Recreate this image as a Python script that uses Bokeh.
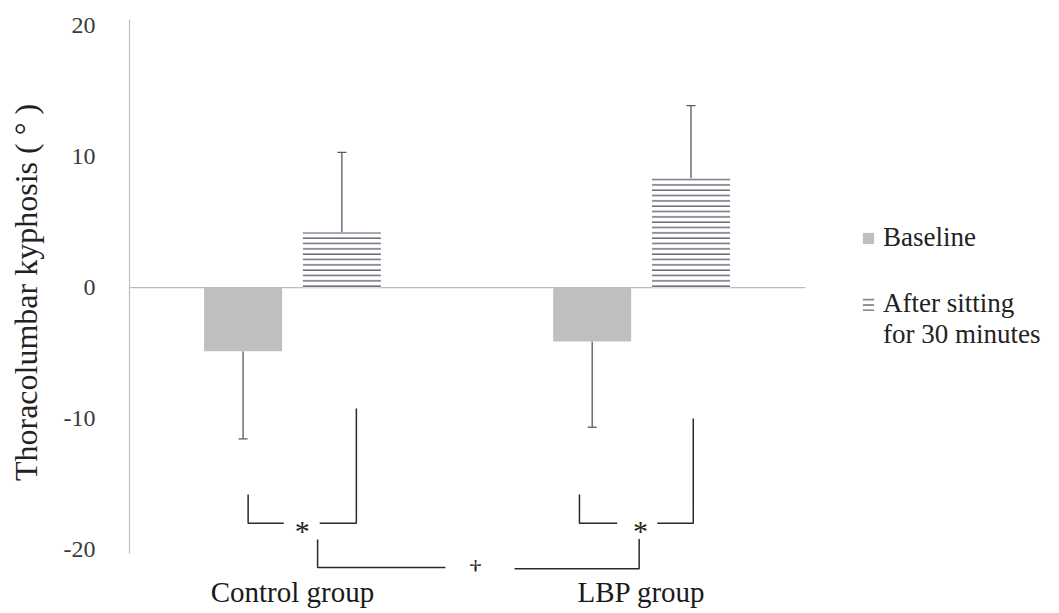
from bokeh.plotting import figure
from bokeh.models import (ColumnDataSource, Whisker, TeeHead, Legend, LegendItem,
                          FixedTicker, Range1d)
from bokeh.core.properties import value
from bokeh.embed import file_html
from bokeh.resources import INLINE

# ---- data ----
groups = ["Control group", "LBP group"]
series = ["Baseline", "After sitting", "for 30 minutes"]
baseline_mean = [-4.87, -4.13]
baseline_sd = [6.70, 6.55]
after_mean = [4.23, 8.36]
after_sd = [6.11, 5.55]
y_ticks = [-20, -10, 0, 10, 20]
y_tick_labels = ["-20", "-10", "0", "10", "20"]
y_label = "Thoracolumbar kyphosis ( \u00b0 )"

# significance brackets (data units)
bracket_xs = [[0.873, 0.873, 0.975], [1.078, 1.183, 1.183],
              [1.072, 1.072, 1.438], [1.636, 1.993, 1.993],
              [1.822, 1.822, 1.930], [2.045, 2.148, 2.148]]
bracket_ys = [[-15.83, -18.02, -18.02], [-18.02, -18.02, -9.25],
              [-19.27, -21.41, -21.41], [-21.50, -21.50, -19.22],
              [-15.83, -18.02, -18.02], [-18.02, -18.02, -10.02]]
star_x = [1.028, 1.997]
star_y = [-18.6, -18.6]
star_text = ["*", "*"]
dagger_x = [1.524]
dagger_y = [-21.45]
dagger_text = ["\u2020"]

SERIF = "Liberation Serif"
offset = 0.1415
bar_w = 0.2234
x_start, zero_line_end, x_end = 0.5332, 2.4697, 3.197
pos = [i + 1 for i in range(len(groups))]

base_src = ColumnDataSource(dict(
    x=[v - offset for v in pos],
    top=[0] * len(groups),
    bottom=baseline_mean,
    lower=[m - s for m, s in zip(baseline_mean, baseline_sd)],
    upper=baseline_mean,
))
after_src = ColumnDataSource(dict(
    x=[v + offset for v in pos],
    top=after_mean,
    bottom=[0] * len(groups),
    lower=after_mean,
    upper=[m + s for m, s in zip(after_mean, after_sd)],
))

p = figure(width=1059, height=613,
           x_range=Range1d(x_start, x_end), y_range=Range1d(-21.71, 20.95),
           output_backend="svg", toolbar_location=None,
           min_border_left=129, min_border_right=0,
           min_border_top=13, min_border_bottom=42)
p.xgrid.visible = False
p.ygrid.visible = False
p.outline_line_color = None
p.background_fill_color = "white"

# zero line (ends where the category axis ends)
p.segment(x0=[x_start], x1=[zero_line_end], y0=[0], y1=[0],
          line_color="#bdbdbd", line_width=1.2)

r_base = p.vbar(x="x", top="top", bottom="bottom", width=bar_w, source=base_src,
                fill_color="#bfbfbf", line_color=None)
r_after = p.vbar(x="x", top="top", bottom="bottom", width=bar_w, source=after_src,
                 fill_color="white", line_color=None,
                 hatch_pattern="horizontal_line", hatch_color="#5a5566",
                 hatch_scale=5.33, hatch_weight=1.3)
r_dummy = p.vbar(x=[], top=[], width=0.1, fill_alpha=0, line_alpha=0)

err_col = "#595959"
p.add_layout(Whisker(base="x", lower="lower", upper="upper", source=base_src,
                     dimension="height", line_color=err_col, line_width=1.3,
                     upper_head=None,
                     lower_head=TeeHead(size=9, line_color=err_col, line_width=1.3)))
p.add_layout(Whisker(base="x", lower="lower", upper="upper", source=after_src,
                     dimension="height", line_color=err_col, line_width=1.3,
                     lower_head=None,
                     upper_head=TeeHead(size=9, line_color=err_col, line_width=1.3)))

# brackets and significance marks
p.multi_line(xs=bracket_xs, ys=bracket_ys, line_color="#2a2a2a", line_width=1.5)
p.text(x=star_x, y=star_y, text=star_text, text_font=value(SERIF),
       text_font_size="30px", text_align="center", text_baseline="middle",
       text_color="#222222")
p.text(x=dagger_x, y=dagger_y, text=dagger_text, text_font=value(SERIF),
       text_font_size="24px", text_align="center", text_baseline="middle",
       text_color="#222222")

# y axis
ya = p.yaxis[0]
ya.ticker = FixedTicker(ticks=y_ticks)
ya.major_label_overrides = {t: s for t, s in zip(y_ticks, y_tick_labels)}
ya.bounds = (-20.3, 20.5)
ya.axis_line_color = "#bfbfbf"
ya.axis_line_width = 1.2
ya.major_tick_line_color = None
ya.minor_tick_line_color = None
ya.major_tick_out = 0
ya.major_tick_in = 0
ya.minor_tick_out = 0
ya.major_label_standoff = 34
ya.major_label_text_font = SERIF
ya.major_label_text_font_size = "24px"
ya.major_label_text_color = "#3a3a3a"
ya.axis_label = y_label
ya.axis_label_text_font = SERIF
ya.axis_label_text_font_size = "32px"
ya.axis_label_text_font_style = "normal"
ya.axis_label_text_color = "#222222"
ya.axis_label_standoff = 17

# x axis
xa = p.xaxis[0]
xa.ticker = FixedTicker(ticks=pos)
xa.major_label_overrides = {v: g for v, g in zip(pos, groups)}
xa.axis_line_color = None
xa.major_tick_line_color = None
xa.minor_tick_line_color = None
xa.major_tick_out = 0
xa.major_tick_in = 0
xa.minor_tick_out = 0
xa.major_label_standoff = 4
xa.major_label_text_font = SERIF
xa.major_label_text_font_size = "29px"
xa.major_label_text_color = "#1a1a1a"

# legends
common = dict(padding=0, margin=0, border_line_color=None,
              background_fill_alpha=0, label_text_font=SERIF,
              label_text_font_size="27px", label_text_color="#222222",
              glyph_width=14, label_standoff=8)
leg1 = Legend(items=[LegendItem(label=series[0], renderers=[r_base])],
              location=(732, 318), spacing=0, glyph_height=14, **common)
leg2 = Legend(items=[LegendItem(label=series[1], renderers=[r_after]),
                     LegendItem(label=series[2], renderers=[r_dummy])],
              location=(732, 221), spacing=-3, glyph_height=16, **common)
p.add_layout(leg1)
p.add_layout(leg2)

open("out.html", "w").write(file_html(p, INLINE))
